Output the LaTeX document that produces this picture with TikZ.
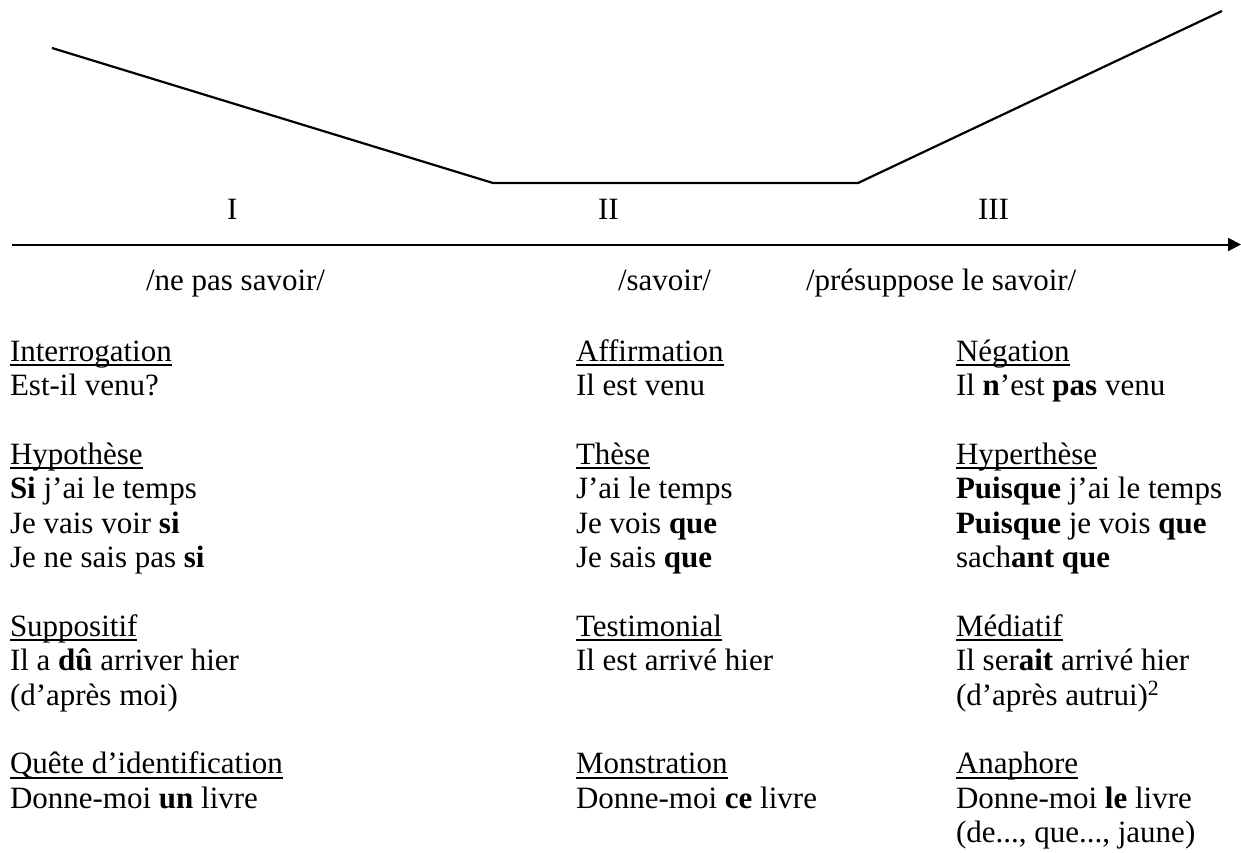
\documentclass[tikz,border=0pt]{standalone}
\usepackage{fontspec}
\setmainfont{Liberation Serif}
\usetikzlibrary{arrows.meta}
\newcommand\ulx[1]{\setbox0\hbox{#1}\rlap{\rule[-5pt]{\wd0}{2pt}}#1}
\tikzset{
  txt/.style={anchor=base west, inner sep=0pt, outer sep=0pt, font=\fontsize{31}{34}\selectfont},
  curve/.style={line width=2.2pt, line join=miter},
  axis/.style={line width=2pt, -{Triangle[length=13pt,width=13pt]}}
}
\begin{document}
\begin{tikzpicture}[x=1pt,y=-1pt]
\useasboundingbox (0,0) rectangle (1241,852);
% curve
\coordinate (p1) at (52,48);
\coordinate (p2) at (493,183);
\coordinate (p3) at (858,183);
\coordinate (p4) at (1222,11);
\draw[curve] (p1) -- (p2) -- (p3) -- (p4);
% axis
\coordinate (a0) at (12,244.5);
\coordinate (a1) at (1241,244.5);
\draw[axis] (a0) -- (a1);
% phase labels
\node[txt] (l1) at (227,219) {I};
\node[txt] (l2) at (598,219) {II};
\node[txt] (l3) at (978,219) {III};
\node[txt] (s1) at (146,290) {/ne pas savoir/};
\node[txt] (s2) at (618,290) {/savoir/};
\node[txt] (s3) at (806,290) {/présuppose le savoir/};
% left column
\node[txt] (c1h1) at (10,361) {\ulx{Interrogation}};
\node[txt] (c1a) at (10,395.4) {Est-il venu?};
\node[txt] (c1h2) at (10,464.2) {\ulx{Hypothèse}};
\node[txt] (c1b) at (10,498.6) {\textbf{Si} j’ai le temps};
\node[txt] (c1c) at (10,533.0) {Je vais voir \textbf{si}};
\node[txt] (c1d) at (10,567.4) {Je ne sais pas \textbf{si}};
\node[txt] (c1h3) at (10,636.2) {\ulx{Suppositif}};
\node[txt] (c1e) at (10,670.6) {Il a \textbf{dû} arriver hier};
\node[txt] (c1f) at (10,705.0) {(d’après moi)};
\node[txt] (c1h4) at (10,773.8) {\ulx{Quête d’identification}};
\node[txt] (c1g) at (10,808.2) {Donne-moi \textbf{un} livre};
% middle column
\node[txt] (c2h1) at (576,361) {\ulx{Affirmation}};
\node[txt] (c2a) at (576,395.4) {Il est venu};
\node[txt] (c2h2) at (576,464.2) {\ulx{Thèse}};
\node[txt] (c2b) at (576,498.6) {J’ai le temps};
\node[txt] (c2c) at (576,533.0) {Je vois \textbf{que}};
\node[txt] (c2d) at (576,567.4) {Je sais \textbf{que}};
\node[txt] (c2h3) at (576,636.2) {\ulx{Testimonial}};
\node[txt] (c2e) at (576,670.6) {Il est arrivé hier};
\node[txt] (c2h4) at (576,773.8) {\ulx{Monstration}};
\node[txt] (c2g) at (576,808.2) {Donne-moi \textbf{ce} livre};
% right column
\node[txt] (c3h1) at (956,361) {\ulx{Négation}};
\node[txt] (c3a) at (956,395.4) {Il \textbf{n}’est \textbf{pas} venu};
\node[txt] (c3h2) at (956,464.2) {\ulx{Hyperthèse}};
\node[txt] (c3b) at (956,498.6) {\textbf{Puisque} j’ai le temps};
\node[txt] (c3c) at (956,533.0) {\textbf{Puisque} je vois \textbf{que}};
\node[txt] (c3d) at (956,567.4) {sach\textbf{ant que}};
\node[txt] (c3h3) at (956,636.2) {\ulx{Médiatif}};
\node[txt] (c3e) at (956,670.6) {Il ser\textbf{ait} arrivé hier};
\node[txt] (c3f) at (956,705.0) {(d’après autrui)\textsuperscript{2}};
\node[txt] (c3h4) at (956,773.8) {\ulx{Anaphore}};
\node[txt] (c3g) at (956,808.2) {Donne-moi \textbf{le} livre};
\node[txt] (c3h) at (956,842.6) {(de..., que..., jaune)};
\end{tikzpicture}
\end{document}
